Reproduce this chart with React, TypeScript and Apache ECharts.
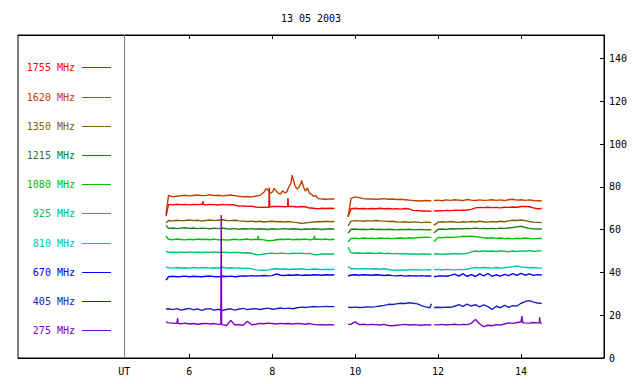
import React, { useEffect, useRef } from 'react';
import * as echarts from 'echarts';

const TITLE = '13 05 2003';
const names = ['1755 MHz', '1620 MHz', '1350 MHz', '1215 MHz', '1080 MHz', '925 MHz', '810 MHz', '670 MHz', '405 MHz', '275 MHz'];
const colors = ['#ff0000', '#c04000', '#806000', '#208020', '#00c000', '#00c060', '#00c0c0', '#0000ff', '#2020c0', '#8000c0'];

const xTicks = [6, 8, 10, 12, 14];
const xLabelValues = [4.43, 6, 8, 10, 12, 14];
const yTicks = [0, 20, 40, 60, 80, 100, 120, 140];
const utPosition = 4.43;

const times1 = [5.44, 5.5, 5.6, 5.7, 5.8, 5.9, 6.0, 6.1, 6.2, 6.3, 6.4, 6.5, 6.6, 6.7, 6.8, 6.9, 7.0, 7.1, 7.2, 7.3, 7.4, 7.5, 7.6, 7.7, 7.8, 7.9, 8.0, 8.1, 8.2, 8.3, 8.4, 8.5, 8.6, 8.7, 8.8, 8.9, 9.0, 9.1, 9.2, 9.3, 9.4, 9.5];
const times2 = [9.83, 9.9, 10.0, 10.1, 10.2, 10.3, 10.4, 10.5, 10.6, 10.7, 10.8, 10.9, 11.0, 11.1, 11.2, 11.3, 11.4, 11.5, 11.6, 11.7, 11.8, 11.84];
const times3 = [11.9, 12.0, 12.1, 12.2, 12.3, 12.4, 12.5, 12.6, 12.7, 12.8, 12.9, 13.0, 13.1, 13.2, 13.3, 13.4, 13.5, 13.6, 13.7, 13.8, 13.9, 14.0, 14.1, 14.2, 14.3, 14.4, 14.5];
const gapTimes = [9.66, 11.87];

const v1755 = [
  66.3, 71.8, 71.6, 71.9, 71.7, 71.8, 71.6, 71.8, 71.7, 71.9, 71.6, 71.8, 71.7, 71.5, 71.8, 71.6, 71.7, 71.5, 71.0, 71.1, 70.9, 71.0, 70.6, 70.4, 70.5, 70.4, 70.8, 70.9, 70.8, 70.7, 70.9, 70.8, 70.6, 70.8, 70.7, 70.1, 70.0, 69.7, 70.0, 69.9, 70.0, 69.9,
  66.0, 69.8, 70.0, 69.8, 69.9, 69.7, 69.9, 69.8, 70.0, 69.8, 69.9, 69.7, 69.8, 69.6, 69.9, 69.7, 69.0, 68.9, 68.7, 68.8, 68.6, 68.8,
  68.7, 68.9, 68.8, 69.0, 68.9, 69.1, 69.0, 69.1, 69.2, 69.5, 70.2, 70.4, 70.3, 70.5, 70.3, 70.4, 70.2, 70.5, 70.4, 70.6, 70.5, 70.8, 70.9, 70.7, 70.2, 69.8, 69.9,
];
const x1755 = [[6.32, 71.8], [6.33, 73.3], [6.34, 71.8], [7.92, 70.5], [7.93, 79.7], [7.94, 70.5], [8.37, 70.8], [8.38, 74.8], [8.39, 70.8]];

const v1620 = [
  67.5, 76.0, 75.3, 75.6, 75.9, 76.1, 75.8, 76.0, 76.2, 75.9, 76.0, 76.3, 75.9, 76.1, 75.8, 76.0, 76.2, 75.9, 75.6, 75.4, 75.5, 75.3, 75.6, 76.0, 77.5, 78.5, 77.5, 78.0, 76.6, 77.2, 80.0, 84.0, 79.0, 82.0, 78.0, 77.0, 75.5, 74.6, 74.3, 74.2, 74.4, 74.3,
  66.0, 74.6, 75.3, 75.0, 74.5, 74.3, 74.4, 74.2, 74.3, 74.5, 74.2, 74.3, 74.1, 74.2, 74.0, 73.8, 73.6, 73.5, 73.4, 73.6, 73.5, 73.4,
  73.6, 73.8, 73.5, 73.9, 73.7, 74.0, 73.8, 73.6, 74.1, 73.8, 73.6, 73.9, 73.7, 73.8, 74.0, 73.7, 73.9, 73.6, 74.0, 74.2, 73.8, 74.0, 73.7, 73.9, 73.6, 73.5, 73.4,
];
const x1620 = [[7.75, 76.8], [7.85, 79.2], [7.95, 77.0], [8.05, 79.3], [8.15, 77.0], [8.25, 78.2], [8.35, 77.6], [8.45, 81.5], [8.48, 85.5], [8.55, 80.5], [8.65, 80.0], [8.71, 83.0], [8.75, 80.2], [8.85, 79.5], [8.95, 76.5], [9.05, 76.0]];

const v1350 = [
  63.2, 64.3, 64.1, 64.4, 64.2, 64.3, 64.5, 64.2, 64.4, 64.1, 64.3, 64.5, 64.2, 64.4, 64.6, 64.3, 64.2, 64.4, 64.1, 64.0, 63.8, 64.0, 63.7, 63.9, 63.6, 63.8, 63.9, 63.7, 63.8, 63.6, 63.8, 63.5, 63.3, 63.0, 63.1, 63.4, 63.6, 63.8, 63.7, 63.9, 63.7, 63.8,
  61.8, 64.0, 64.2, 64.1, 63.9, 64.2, 64.0, 64.3, 64.1, 64.0, 63.8, 63.9, 63.6, 63.5, 63.7, 63.4, 63.6, 63.5, 63.3, 63.5, 63.4, 63.3,
  62.0, 63.5, 63.7, 63.5, 63.8, 63.6, 63.4, 63.7, 63.5, 63.8, 63.6, 63.9, 63.7, 63.5, 63.8, 63.6, 63.9, 63.7, 64.1, 64.4, 64.3, 64.5, 64.2, 63.8, 63.5, 63.4, 63.3,
];

const v1215 = [
  62.0, 60.6, 60.8, 60.5, 60.7, 60.9, 60.6, 60.8, 60.5, 60.7, 60.6, 60.4, 60.7, 60.5, 60.8, 60.4, 60.3, 60.5, 60.2, 60.4, 60.3, 60.5, 60.2, 60.4, 60.3, 60.1, 60.4, 60.2, 60.3, 60.5, 60.2, 60.4, 60.3, 60.1, 60.3, 60.2, 60.4, 60.3, 60.1, 60.3, 60.4, 60.2,
  58.4, 60.2, 60.3, 60.1, 60.2, 60.0, 60.3, 60.1, 60.2, 60.0, 60.2, 60.1, 59.9, 60.1, 60.0, 60.2, 59.9, 60.0, 60.1, 59.9, 60.0, 59.9,
  58.5, 60.2, 60.3, 60.1, 60.4, 60.3, 60.5, 60.4, 60.6, 60.5, 60.7, 60.5, 60.6, 60.4, 60.6, 60.5, 60.7, 60.6, 60.8, 61.0, 61.3, 61.6, 61.0, 60.6, 60.4, 60.3, 60.3,
];

const v1080 = [
  57.0, 55.5, 55.3, 55.6, 55.4, 55.2, 55.5, 55.3, 55.6, 55.4, 55.5, 55.3, 55.6, 55.2, 55.4, 55.1, 55.3, 55.5, 55.2, 55.4, 55.6, 55.3, 55.5, 55.4, 55.2, 54.8, 54.9, 55.3, 55.5, 55.4, 55.6, 55.3, 55.5, 55.4, 55.6, 55.3, 55.5, 55.5, 55.4, 55.6, 55.3, 55.5,
  54.3, 55.9, 56.0, 55.8, 56.1, 55.9, 56.0, 55.8, 56.1, 55.9, 56.0, 55.8, 56.0, 56.1, 55.9, 56.2, 56.0, 56.4, 56.3, 56.5, 56.4, 56.3,
  54.3, 56.4, 56.2, 56.5, 56.3, 56.5, 56.6, 56.9, 56.8, 57.0, 56.7, 56.5, 56.2, 56.0, 56.2, 55.9, 56.1, 55.8, 56.0, 55.7, 56.0, 55.8, 56.1, 55.9, 55.7, 55.9, 55.9,
];
const x1080 = [[7.65, 55.4], [7.66, 57.0], [7.67, 55.4], [9.01, 55.5], [9.02, 57.1], [9.03, 55.5]];

const v925 = [
  50.0, 49.4, 49.5, 49.3, 49.5, 49.4, 49.6, 49.4, 49.5, 49.3, 49.5, 49.4, 49.6, 49.3, 49.5, 49.4, 49.2, 49.4, 49.3, 49.1, 49.2, 49.0, 48.4, 48.3, 48.6, 48.9, 49.0, 48.8, 49.0, 48.9, 48.8, 49.0, 48.9, 49.0, 48.8, 48.9, 48.4, 48.3, 48.6, 48.7, 48.6, 48.7,
  51.7, 49.2, 49.0, 49.1, 48.9, 49.1, 49.0, 48.9, 49.1, 48.8, 49.0, 48.7, 48.9, 48.6, 48.8, 48.6, 48.7, 48.5, 48.7, 48.6, 48.5, 48.6,
  48.6, 48.7, 48.5, 48.7, 48.6, 48.8, 48.6, 48.7, 48.9, 49.6, 50.0, 49.8, 50.1, 49.9, 50.0, 49.8, 50.1, 49.9, 49.7, 50.0, 49.8, 50.1, 49.9, 50.2, 49.8, 50.1, 50.1,
];

const v810 = [
  42.6, 42.2, 42.0, 42.3, 42.1, 42.2, 42.0, 42.3, 42.1, 42.2, 42.3, 42.0, 42.2, 42.1, 42.4, 42.1, 42.2, 42.0, 42.1, 41.9, 42.0, 41.8, 41.2, 41.1, 41.0, 41.2, 41.5, 41.7, 41.5, 41.6, 41.4, 41.6, 41.5, 41.7, 41.5, 41.4, 41.6, 41.5, 41.3, 41.5, 41.4, 41.5,
  42.8, 41.7, 41.8, 41.6, 41.7, 41.8, 41.6, 41.7, 41.5, 41.7, 41.4, 41.1, 41.0, 41.2, 41.0, 41.3, 41.2, 41.3, 41.1, 41.2, 41.3, 41.2,
  41.3, 41.4, 41.2, 41.4, 41.3, 41.2, 41.4, 41.3, 41.5, 42.0, 42.3, 42.1, 42.3, 42.2, 42.0, 42.3, 42.1, 42.2, 42.4, 42.7, 43.0, 42.6, 42.4, 42.2, 42.3, 42.1, 42.0,
];

const v670 = [
  36.4, 38.0, 38.2, 38.0, 38.1, 38.3, 38.0, 38.2, 38.1, 38.0, 38.2, 38.3, 38.1, 38.0, 38.2, 38.1, 38.3, 38.0, 38.2, 38.4, 38.3, 38.5, 38.3, 38.4, 38.6, 38.4, 38.5, 39.3, 38.7, 38.6, 38.8, 38.7, 38.9, 38.6, 38.8, 38.7, 38.9, 38.8, 38.7, 38.9, 38.8, 38.9,
  38.3, 38.8, 38.9, 38.7, 38.9, 38.8, 38.7, 38.9, 38.8, 38.6, 38.8, 38.5, 38.4, 38.6, 38.3, 38.5, 38.4, 38.3, 38.5, 38.3, 38.4, 38.3,
  38.0, 38.3, 38.4, 38.2, 38.6, 39.2, 38.3, 39.4, 38.2, 39.0, 38.1, 39.3, 38.4, 39.5, 38.2, 38.9, 38.3, 39.1, 38.5, 39.4, 38.6, 39.6, 38.7, 39.3, 38.6, 39.0, 38.8,
];

const v405 = [
  22.9, 23.0, 22.6, 23.1, 22.4, 22.8, 23.2, 22.5, 23.0, 22.3, 22.9, 23.1, 22.4, 22.8, 22.2, 22.7, 23.0, 22.4, 22.9, 23.2, 22.6, 22.9, 23.1, 22.7, 23.0, 23.3, 22.8, 23.0, 23.4, 23.1, 23.3, 23.0, 23.5, 23.8, 23.6, 23.9, 24.1, 23.9, 24.0, 24.1, 24.0, 24.0,
  23.7, 23.6, 23.8, 23.6, 23.7, 23.9, 23.8, 24.0, 24.3, 24.6, 25.1, 25.0, 25.3, 25.6, 25.5, 25.8, 25.6, 25.3, 24.5, 23.9, 23.5, 25.4,
  23.6, 23.7, 23.6, 23.8, 23.7, 24.2, 25.0, 24.1, 25.2, 24.3, 24.9, 23.9, 24.8, 24.0, 22.7, 24.2, 23.5, 24.6, 23.7, 24.5, 24.3, 25.6, 26.4, 26.8, 26.1, 25.7, 25.5,
];

const v275 = [
  16.9, 16.4, 16.3, 16.2, 16.0, 16.3, 15.9, 16.1, 15.8, 16.0, 16.2, 15.9, 16.1, 15.7, 15.5, 15.2, 17.6, 15.4, 15.6, 15.3, 17.2, 15.5, 15.8, 16.2, 16.0, 16.3, 16.1, 15.9, 16.2, 16.0, 16.1, 15.9, 16.2, 16.0, 15.8, 16.1, 15.7, 15.5, 15.6, 15.4, 15.6, 15.5,
  15.7, 15.8, 16.9, 15.6, 15.8, 15.5, 15.7, 15.6, 15.4, 15.7, 15.2, 15.1, 15.3, 15.5, 15.7, 15.4, 15.6, 15.5, 15.3, 15.6, 15.4, 15.4,
  15.6, 15.5, 15.7, 15.4, 15.6, 15.8, 15.5, 15.7, 15.6, 16.2, 18.0, 16.0, 14.7, 15.3, 15.1, 15.6, 15.4, 15.9, 16.4, 16.2, 16.6, 16.8, 16.4, 16.3, 16.6, 16.4, 16.2,
];
const x275 = [[5.71, 16.2], [5.72, 18.6], [5.73, 16.2], [6.76, 15.9], [6.77, 66.8], [6.78, 15.7], [14.02, 19.6], [14.04, 16.5], [14.44, 16.4], [14.45, 19.0], [14.46, 16.4]];

const seriesValues = [v1755, v1620, v1350, v1215, v1080, v925, v810, v670, v405, v275];
const seriesExtras = [x1755, x1620, [], [], x1080, [], [], [], [], x275];

const FONT = '"DejaVu Sans Mono", monospace';

function buildData(vals: number[], extras: number[][]) {
  const allTimes = [...times1, ...times2, ...times3];
  const pts: (number | null)[][] = allTimes.map((t, i) => [t, vals[i]]);
  gapTimes.forEach((g) => pts.push([g, null]));
  extras.forEach((e) => pts.push(e));
  pts.sort((a, b) => (a[0] as number) - (b[0] as number));
  return pts;
}

export default function App() {
  const ref = useRef<HTMLDivElement>(null);
  useEffect(() => {
    if (!ref.current) return;
    const chart = echarts.init(ref.current, null, { renderer: 'svg' });
    const legendGraphics: any[] = [];
    names.forEach((n, i) => {
      const y = Math.round(67.3 + i * 29.22) + 0.5;
      legendGraphics.push({
        type: 'text',
        x: 75,
        y,
        style: { text: n, fill: colors[i], font: `10px ${FONT}`, textAlign: 'right', textVerticalAlign: 'middle' },
      });
      legendGraphics.push({
        type: 'line',
        shape: { x1: 82, y1: y, x2: 111, y2: y },
        style: { stroke: colors[i], lineWidth: 1 },
      });
    });
    legendGraphics.push({
      type: 'text',
      x: 311,
      y: 18,
      style: { text: TITLE, fill: '#000', font: `10px ${FONT}`, textAlign: 'center', textVerticalAlign: 'middle' },
    });

    const series: any[] = names.map((n, i) => ({
      name: n,
      type: 'line',
      data: buildData(seriesValues[i], seriesExtras[i]),
      showSymbol: false,
      symbol: 'none',
      connectNulls: false,
      lineStyle: { color: colors[i], width: 1.4 },
      itemStyle: { color: colors[i] },
      z: 2 + i,
    }));
    series[0].markLine = {
      silent: true,
      symbol: ['none', 'none'],
      label: { show: false },
      lineStyle: { color: '#808080', width: 1, type: 'solid' },
      data: [{ xAxis: utPosition }],
    };

    const axisColor = '#000';
    chart.setOption({
      animation: false,
      backgroundColor: '#fff',
      grid: { left: 18, right: 36, top: 35, bottom: 26, show: true, borderColor: axisColor, borderWidth: 1 },
      xAxis: [
        {
          type: 'value',
          min: 1.87,
          max: 16,
          position: 'bottom',
          axisLine: { show: true, lineStyle: { color: axisColor, width: 1 } },
          axisTick: { show: true, inside: true, length: 4, customValues: xTicks, lineStyle: { color: axisColor } },
          axisLabel: {
            show: true,
            customValues: xLabelValues,
            formatter: (v: number) => (v < 5 ? 'UT' : String(v)),
            color: '#000',
            fontFamily: FONT,
            fontSize: 10,
            margin: 8,
          },
          splitLine: { show: false },
        },
        {
          type: 'value',
          min: 1.87,
          max: 16,
          position: 'top',
          axisLine: { show: true, lineStyle: { color: axisColor, width: 1 } },
          axisTick: { show: true, inside: true, length: 4, customValues: xTicks, lineStyle: { color: axisColor } },
          axisLabel: { show: false },
          splitLine: { show: false },
        },
      ],
      yAxis: [
        {
          type: 'value',
          min: 0,
          max: 151,
          position: 'right',
          axisLine: { show: true, lineStyle: { color: axisColor, width: 1 } },
          axisTick: { show: true, inside: true, length: 4, customValues: yTicks, lineStyle: { color: axisColor } },
          axisLabel: { show: true, customValues: yTicks, color: '#000', fontFamily: FONT, fontSize: 10, margin: 5 },
          splitLine: { show: false },
        },
      ],
      graphic: legendGraphics,
      series,
    });
    return () => chart.dispose();
  }, []);
  return <div ref={ref} style={{ position: 'fixed', left: 0, top: 0, width: 640, height: 384 }} />;
}
